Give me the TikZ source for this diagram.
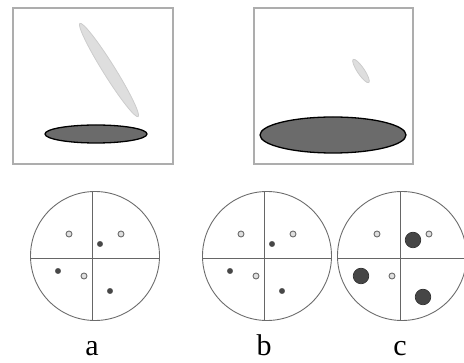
\documentclass[tikz,border=0pt]{standalone}
\usepackage{fontspec}
\setmainfont{Liberation Serif}
\definecolor{framegray}{gray}{0.68}
\definecolor{ghostgray}{gray}{0.87}
\definecolor{shadowgray}{gray}{0.42}
\definecolor{spotgray}{gray}{0.28}
\tikzset{
  panel/.style={draw=framegray, line width=1.1pt},
  ghost/.style={fill=ghostgray, draw=gray!40, line width=0.8pt},
  shadow/.style={fill=shadowgray, draw=black, line width=1.3pt},
  dial/.style={draw=gray!85!black, line width=0.9pt},
  hair/.style={draw=gray!80!black, line width=0.9pt},
  litespot/.style={fill=gray!25, draw=gray!85!black, line width=0.9pt},
  darkspot/.style={fill=spotgray, draw=gray!60!black, line width=0.4pt},
  bigspot/.style={fill=gray!55!black, draw=gray!35!black, line width=0.6pt},
  tag/.style={font=\fontsize{30}{32}\selectfont, anchor=base}
}
\begin{document}
\begin{tikzpicture}[x=1pt,y=-1pt]
  \useasboundingbox (0,0) rectangle (464,363);
  % upper panels
  \draw[panel] (13,8) rectangle (173,164);
  \draw[ghost, rotate around={-58:(109,70)}] (109,70) ellipse (55 and 6);
  \draw[shadow] (96,134) ellipse (51 and 9);
  \draw[panel] (254,8) rectangle (413,164);
  \draw[ghost, rotate around={-56:(361,71)}] (361,71) ellipse (14 and 3.5);
  \draw[shadow] (333,135) ellipse (73 and 18);
  % lower dials
  \foreach \cx/\vx/\lab in {95/92/a, 267/264/b, 402/400/c} {
    \begin{scope}
      \clip (\cx,256) circle (65);
      \draw[hair] (\vx,180) -- (\vx,330);
      \draw[hair] (\cx-70,258) -- (\cx+70,258);
    \end{scope}
    \draw[dial] (\cx,256) circle (64.5);
    \foreach \dx/\dy in {-23/-24, 29/-24, -8/18}
      \draw[litespot] (\vx+\dx,258+\dy) circle (3);
    \node[tag] (lbl\lab) at (\vx,356) {\lab};
  }
  \foreach \vx in {92,264}
    \foreach \dx/\dy in {8/-14, -34/13, 18/33}
      \draw[darkspot] (\vx+\dx,258+\dy) circle (2.7);
  \foreach \dx/\dy in {13/-18, -39/18, 23/39}
    \draw[bigspot] (400+\dx,258+\dy) circle (7.8);
\end{tikzpicture}
\end{document}
